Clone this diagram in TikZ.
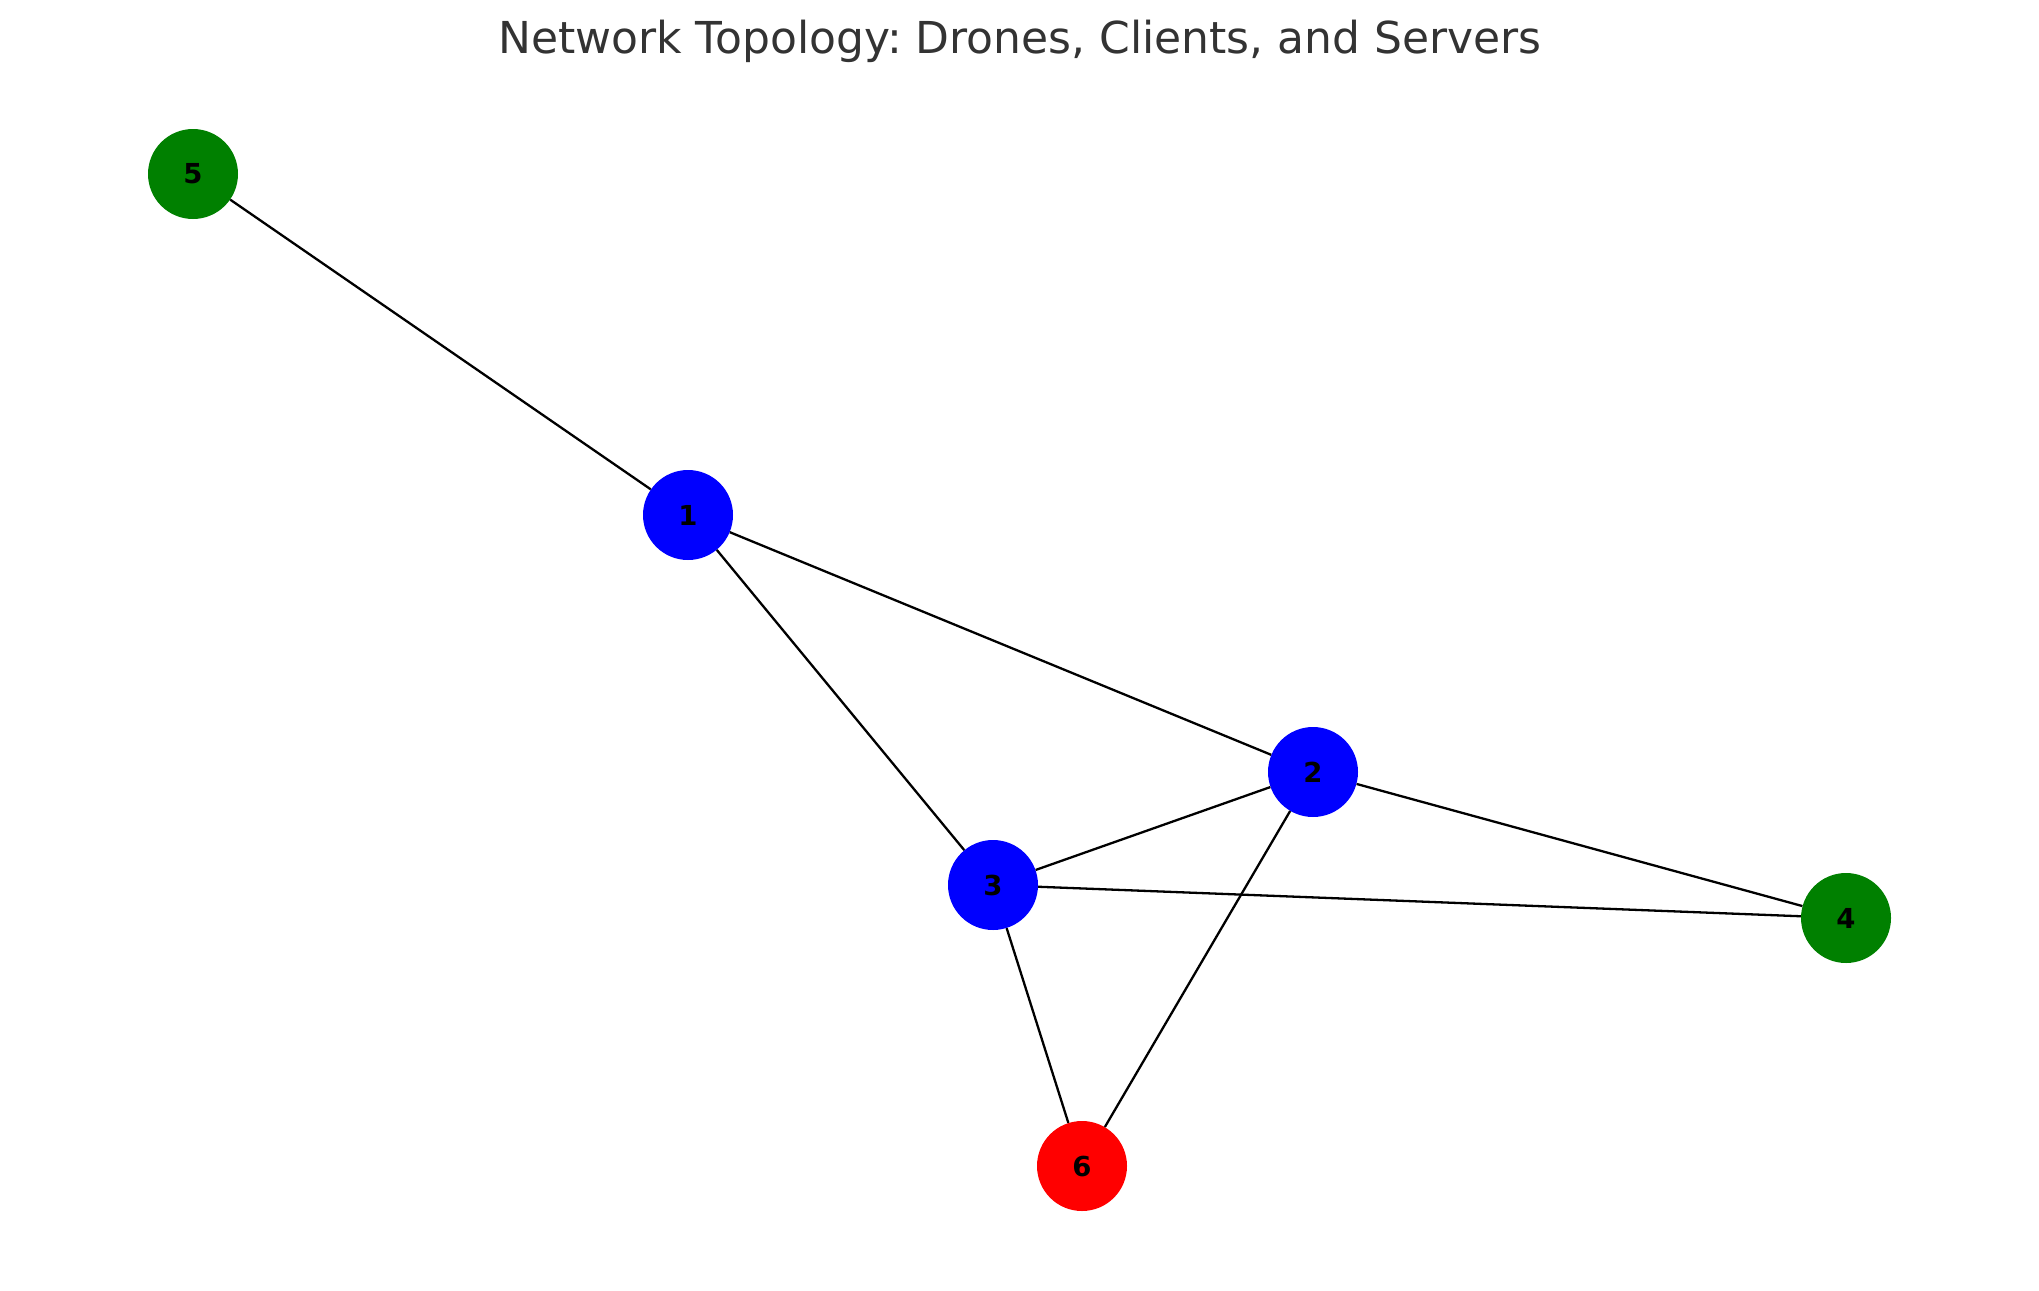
\documentclass[tikz,border=0pt]{standalone}
\usepackage{fontspec}
\setmainfont{DejaVu Sans}
\frenchspacing
\definecolor{mgreen}{RGB}{0,128,0}
\definecolor{mblue}{RGB}{0,0,255}
\definecolor{mred}{RGB}{255,0,0}
\definecolor{titlegray}{RGB}{51,51,51}
\begin{document}
\begin{tikzpicture}[x=1pt,y=-1pt,
  netnode/.style={circle,minimum size=90pt,inner sep=0pt,draw=none,
    font=\fontsize{27.5}{30}\selectfont\bfseries,text=black},
  drone/.style={netnode,fill=mblue},
  client/.style={netnode,fill=mgreen},
  server/.style={netnode,fill=mred},
  link/.style={draw=black,line width=2.3pt}]
\useasboundingbox (0,0) rectangle (2039,1290);
\node[anchor=base,text=titlegray,font=\fontsize{44}{50}\selectfont,inner sep=0pt] (title) at (1020,53) {Network Topology: Drones, Clients, and Servers};
\node[drone] (n1) at (688,515) {1};
\node[drone] (n2) at (1313,772) {2};
\node[drone] (n3) at (993,885) {3};
\node[client] (n4) at (1846,918) {4};
\node[client] (n5) at (193,174) {5};
\node[server] (n6) at (1082,1166) {6};
\draw[link] (n5) -- (n1);
\draw[link] (n1) -- (n2);
\draw[link] (n1) -- (n3);
\draw[link] (n2) -- (n3);
\draw[link] (n2) -- (n4);
\draw[link] (n3) -- (n4);
\draw[link] (n2) -- (n6);
\draw[link] (n3) -- (n6);
\end{tikzpicture}
\end{document}
